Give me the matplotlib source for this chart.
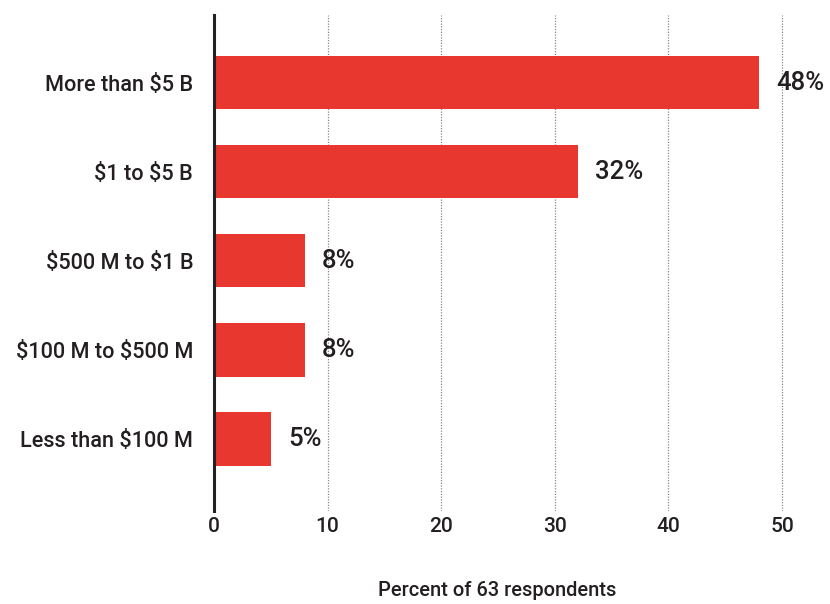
import matplotlib
matplotlib.use("Agg")
import matplotlib.pyplot as plt
from matplotlib import font_manager

categories = ["More than $5 B", "$1 to $5 B", "$500 M to $1 B",
              "$100 M to $500 M", "Less than $100 M"]
values = [48, 32, 8, 8, 5]
xticks = [0, 10, 20, 30, 40, 50]
xlabel = "Percent of 63 respondents"

names = {f.name for f in font_manager.fontManager.ttflist}
family = ["Liberation Sans Narrow", "Roboto", "DejaVu Sans"]
family = [f for f in family if f in names] or ["DejaVu Sans"]
plt.rcParams["font.family"] = family
plt.rcParams["font.weight"] = "medium"

text_color = "#231f20"
bar_color = "#e8372e"


def plain(s):
    # keep dollar signs literal instead of starting mathtext
    return s.replace("$", r"\$")


fig = plt.figure(figsize=(8.3, 6.04), dpi=100)
ax = fig.add_axes([214 / 830, 1 - 511 / 604, 1 - 214 / 830 - 0.003, (511 - 15) / 604])

ypos = list(range(len(categories)))
ax.barh(ypos, values, height=0.6, color=bar_color, zorder=3)
for y, v in zip(ypos, values):
    ax.text(v + 1.5, y, f"{v}%", va="center", ha="left", fontsize=18.5,
            color=text_color, clip_on=False)

ax.set_ylim(4.81, -0.76)
ax.set_xlim(0, 54)
ax.set_yticks(ypos)
ax.set_yticklabels([plain(c) for c in categories], fontsize=15.6, color=text_color)
ax.set_xticks(xticks)
ax.set_xticklabels([str(t) for t in xticks], fontsize=15, color=text_color)
ax.tick_params(axis="y", length=0, pad=15)
ax.tick_params(axis="x", length=0, pad=4)

for s in ["top", "right", "bottom"]:
    ax.spines[s].set_visible(False)
ax.spines["left"].set_linewidth(2.2)
ax.spines["left"].set_color("#222222")
ax.spines["left"].set_zorder(4)

ax.xaxis.grid(True, linestyle=(0, (1, 1.2)), color="#888888", linewidth=0.9, zorder=0)
ax.yaxis.grid(False)
ax.set_axisbelow(True)

fig.text(497 / 830, 1 - 590 / 604, xlabel, ha="center", va="center",
         fontsize=14.4, color=text_color)

fig.savefig("out.png", dpi=100, facecolor="white")
